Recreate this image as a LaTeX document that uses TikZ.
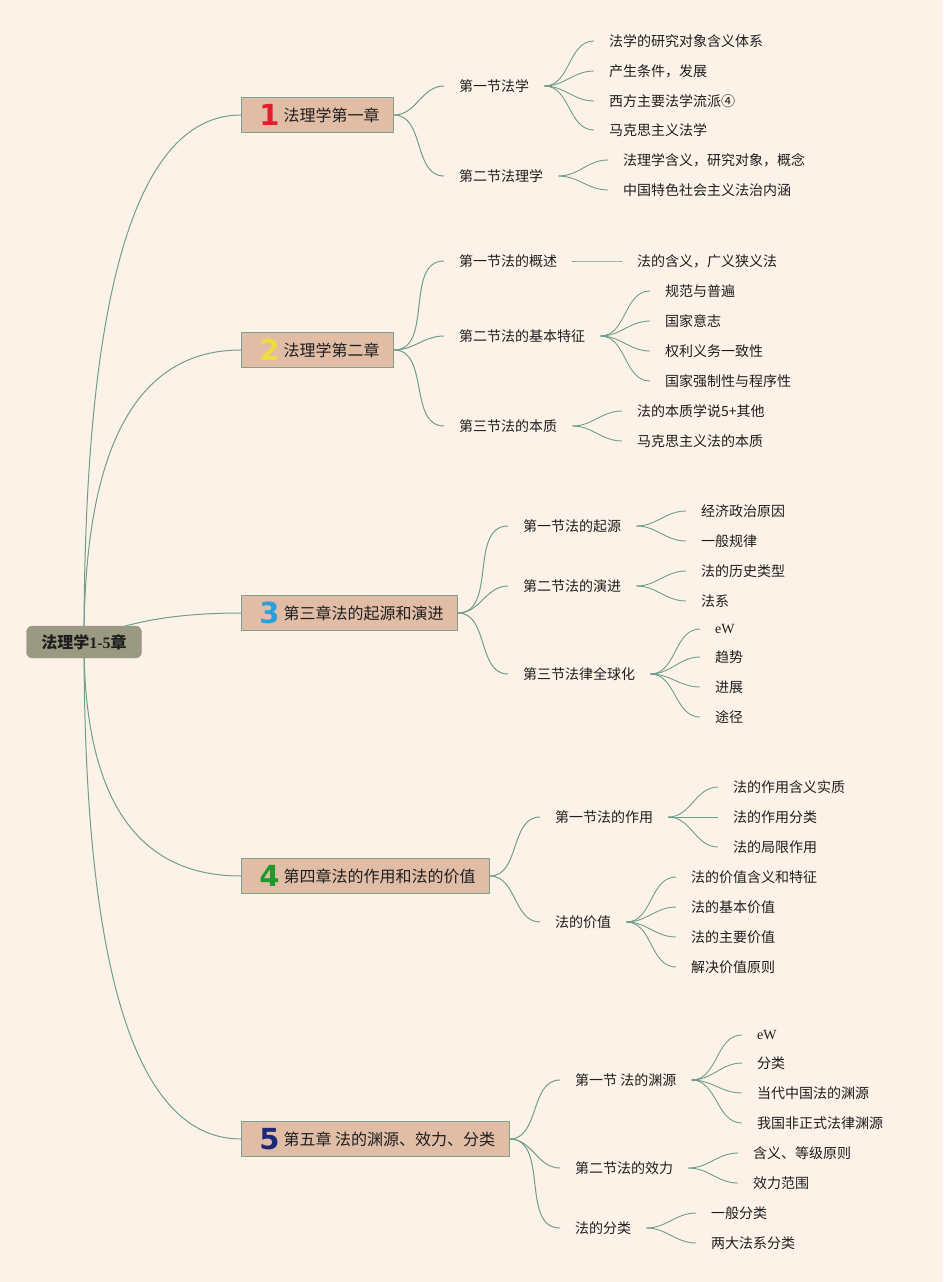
\documentclass[tikz,border=0pt]{standalone}
\usepackage{fontspec}
\setmainfont{Noto Sans CJK SC}
\newfontfamily\numfont{DejaVu Sans}
\newfontfamily\serifw{Liberation Serif}
\usetikzlibrary{calc}
\definecolor{bgpeach}{HTML}{FDF2E8}
\definecolor{linegreen}{HTML}{6E9E8C}
\definecolor{chapfill}{HTML}{E2BDA6}
\definecolor{chapdraw}{HTML}{7FA08F}
\definecolor{rootfill}{HTML}{9A9A83}
\definecolor{textdark}{HTML}{1E1E1E}
\definecolor{numred}{HTML}{E0202C}
\definecolor{numyellow}{HTML}{F0DC3C}
\definecolor{numblue}{HTML}{2A9EDE}
\definecolor{numgreen}{HTML}{1C9A2A}
\definecolor{numnavy}{HTML}{1C2878}
\newcommand{\chapnum}[2]{\makebox[28pt]{\raisebox{-4.5pt}[0pt][0pt]{\numfont\bfseries\fontsize{29}{29}\selectfont\color{#1}#2}}}

\begin{document}
\begin{tikzpicture}[x=1pt,y=-1pt,
    rootbox/.style={draw=rootfill,fill=rootfill,rounded corners=6pt,minimum width=115pt,minimum height=32pt,inner sep=0pt,text=textdark,font=\fontsize{16}{18}\selectfont\bfseries},
    chapbox/.style={draw=chapdraw,line width=1pt,fill=chapfill,anchor=west,minimum height=35pt,inner xsep=14pt,inner ysep=0pt,text=textdark,font=\fontsize{16}{18}\selectfont},
    secnode/.style={anchor=west,inner xsep=15pt,inner ysep=2pt,text=textdark,font=\fontsize{14}{16}\selectfont},
    leafnode/.style={anchor=west,inner xsep=15pt,inner ysep=2pt,text=textdark,font=\fontsize{14}{16}\selectfont},
    branch/.style={draw=linegreen,line width=1pt},
    twig/.style={draw=linegreen,line width=0.9pt}
]
        \fill[bgpeach] (0,0) rectangle (943,1282);

        % chapters
        \node[chapbox] (c1) at (241,115) {\chapnum{numred}{1}法理学第一章};
        \node[chapbox] (c2) at (241,350) {\chapnum{numyellow}{2}法理学第二章};
        \node[chapbox] (c3) at (241,613) {\chapnum{numblue}{3}第三章法的起源和演进};
        \node[chapbox] (c4) at (241,876) {\chapnum{numgreen}{4}第四章法的作用和法的价值};
        \node[chapbox] (c5) at (241,1139) {\chapnum{numnavy}{5}第五章 法的渊源、效力、分类};

        % chapter 1
        \node[secnode] (s11) at (444,86) {第一节法学};
        \node[secnode] (s12) at (444,176) {第二节法理学};
        \node[leafnode] (l111) at (594,41) {法学的研究对象含义体系};
        \node[leafnode] (l112) at (594,71) {产生条件，发展};
        \node[leafnode] (l113) at (594,101) {西方主要法学流派④};
        \node[leafnode] (l114) at (594,130) {马克思主义法学};
        \node[leafnode] (l121) at (608,160) {法理学含义，研究对象，概念};
        \node[leafnode] (l122) at (608,190) {中国特色社会主义法治内涵};

        % chapter 2
        \node[secnode] (s21) at (444,261) {第一节法的概述};
        \node[secnode] (s22) at (444,336) {第二节法的基本特征};
        \node[secnode] (s23) at (444,426) {第三节法的本质};
        \node[leafnode] (l211) at (622,261) {法的含义，广义狭义法};
        \node[leafnode] (l221) at (650,291) {规范与普遍};
        \node[leafnode] (l222) at (650,321) {国家意志};
        \node[leafnode] (l223) at (650,351) {权利义务一致性};
        \node[leafnode] (l224) at (650,381) {国家强制性与程序性};
        \node[leafnode] (l231) at (622,411) {法的本质学说5+其他};
        \node[leafnode] (l232) at (622,441) {马克思主义法的本质};

        % chapter 3
        \node[secnode] (s31) at (508,526) {第一节法的起源};
        \node[secnode] (s32) at (508,586) {第二节法的演进};
        \node[secnode] (s33) at (508,674) {第三节法律全球化};
        \node[leafnode] (l311) at (686,511) {经济政治原因};
        \node[leafnode] (l312) at (686,541) {一般规律};
        \node[leafnode] (l321) at (686,571) {法的历史类型};
        \node[leafnode] (l322) at (686,601) {法系};
        \node[leafnode] (l331) at (700,629) {\serifw eW};
        \node[leafnode] (l332) at (700,657) {趋势};
        \node[leafnode] (l333) at (700,687) {进展};
        \node[leafnode] (l334) at (700,717) {途径};

        % chapter 4
        \node[secnode] (s41) at (540,817) {第一节法的作用};
        \node[secnode] (s42) at (540,922) {法的价值};
        \node[leafnode] (l411) at (718,787) {法的作用含义实质};
        \node[leafnode] (l412) at (718,817) {法的作用分类};
        \node[leafnode] (l413) at (718,847) {法的局限作用};
        \node[leafnode] (l421) at (676,877) {法的价值含义和特征};
        \node[leafnode] (l422) at (676,907) {法的基本价值};
        \node[leafnode] (l423) at (676,937) {法的主要价值};
        \node[leafnode] (l424) at (676,967) {解决价值原则};

        % chapter 5
        \node[secnode] (s51) at (560,1080) {第一节 法的渊源};
        \node[secnode] (s52) at (560,1168) {第二节法的效力};
        \node[secnode] (s53) at (560,1228) {法的分类};
        \node[leafnode] (l511) at (742,1035) {\serifw eW};
        \node[leafnode] (l512) at (742,1063) {分类};
        \node[leafnode] (l513) at (742,1093) {当代中国法的渊源};
        \node[leafnode] (l514) at (742,1123) {我国非正式法律渊源};
        \node[leafnode] (l521) at (738,1153) {含义、等级原则};
        \node[leafnode] (l522) at (738,1183) {效力范围};
        \node[leafnode] (l531) at (696,1213) {一般分类};
        \node[leafnode] (l532) at (696,1243) {两大法系分类};

        % chapter to section
        \foreach \c/\s in {c1/s11,c1/s12,c2/s21,c2/s22,c2/s23,c3/s31,c3/s32,c3/s33,c4/s41,c4/s42,c5/s51,c5/s52,c5/s53} {
            \draw[branch] (\c.east) to[out=0,in=180] (\s.west);
        }
        % section to leaf
        \foreach \s/\l in {s11/l111,s11/l112,s11/l113,s11/l114,s12/l121,s12/l122,
                           s21/l211,s22/l221,s22/l222,s22/l223,s22/l224,s23/l231,s23/l232,
                           s31/l311,s31/l312,s32/l321,s32/l322,s33/l331,s33/l332,s33/l333,s33/l334,
                           s41/l411,s41/l412,s41/l413,s42/l421,s42/l422,s42/l423,s42/l424,
                           s51/l511,s51/l512,s51/l513,s51/l514,s52/l521,s52/l522,s53/l531,s53/l532} {
            \draw[twig] (\s.east) to[out=0,in=180] (\l.west);
        }

        % root
        \coordinate (hub) at (84,642);
        \foreach \c/\k in {c1/0,c2/0,c3/55,c4/0,c5/0} {
            \draw[branch] (hub) .. controls ($(hub)!0.667!($(hub |- \c.west)+(\k,0)$)$) and ($(\c.west)!0.667!($(hub |- \c.west)+(\k,0)$)$) .. (\c.west);
        }
        \node[rootbox] (root) at (hub) {法理学{\serifw\bfseries 1-5}章};

\end{tikzpicture}
\end{document}
